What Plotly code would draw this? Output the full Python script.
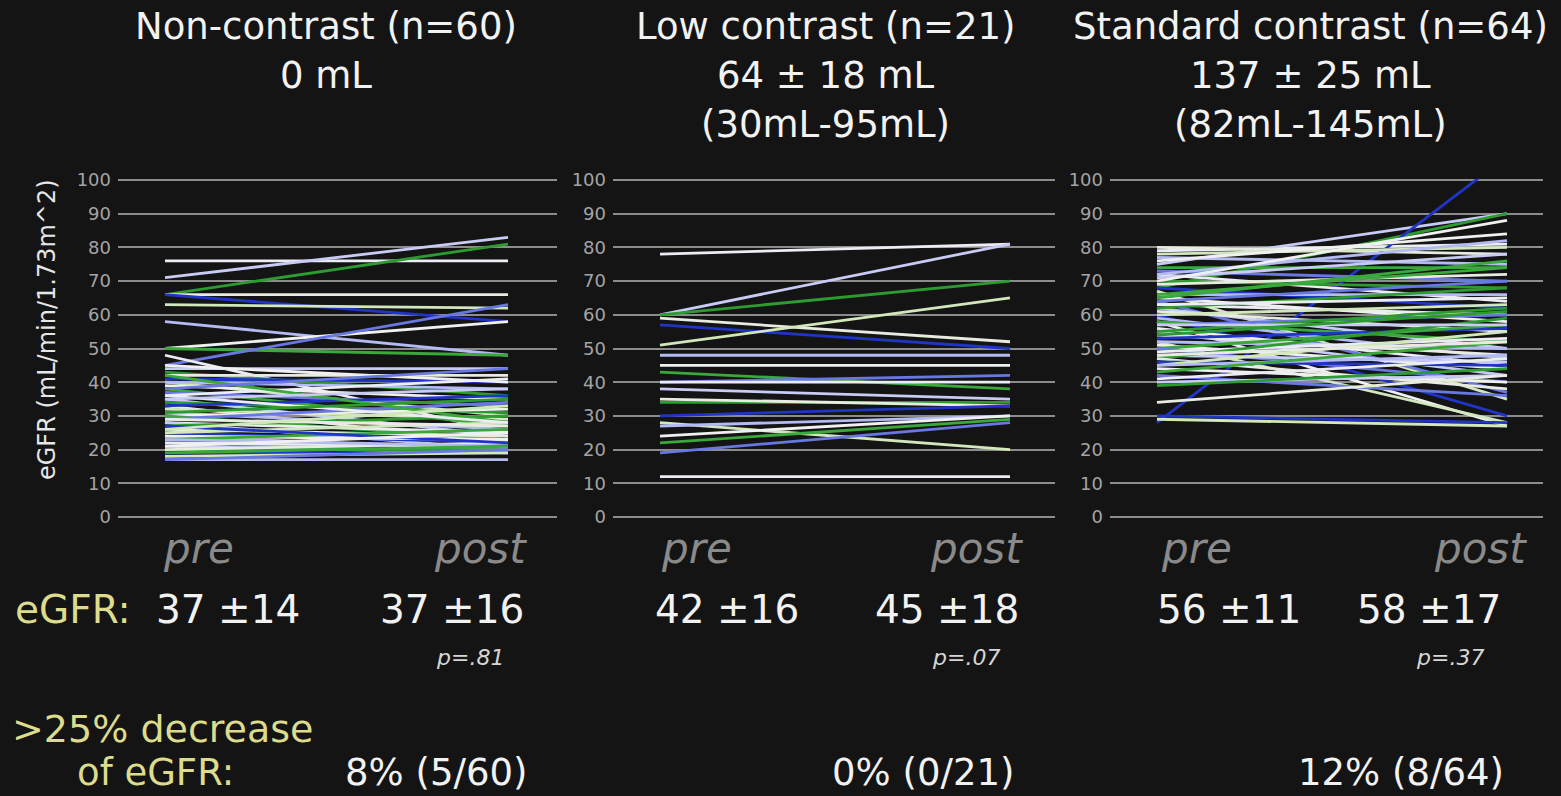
import plotly.graph_objects as go

W, H = 1561, 796

# ---------------- data ----------------
panel_titles = [
    ["Non-contrast (n=60)", "0 mL"],
    ["Low contrast (n=21)", "64 ± 18 mL", "(30mL-95mL)"],
    ["Standard contrast (n=64)", "137 ± 25 mL", "(82mL-145mL)"],
]
x_labels = ["pre", "post"]
y_ticks = [0, 10, 20, 30, 40, 50, 60, 70, 80, 90, 100]

non_pre = [76, 71, 66, 66, 66, 63, 58, 50, 50, 45, 48, 44, 43, 42, 41, 40, 40, 39, 38, 37,
           36, 35, 34, 33, 33, 32, 31, 30, 30, 29, 28, 28, 27, 26, 25, 25, 24, 24, 23, 22,
           22, 21, 20, 20, 19, 18, 17, 45, 42, 38, 36, 35, 31, 29, 27, 26, 23, 21, 19, 17]
non_post = [76, 83, 81, 66, 58, 62, 48, 58, 48, 63, 25, 44, 36, 42, 40, 30, 38, 35, 27, 33,
            41, 24, 31, 22, 36, 29, 26, 32, 23, 34, 25, 20, 30, 24, 22, 28, 20, 23, 26, 19,
            21, 19, 20, 22, 19, 19, 17, 40, 28, 44, 28, 38, 35, 27, 22, 33, 21, 25, 21, 20]

low_pre = [78, 60, 60, 59, 57, 51, 48, 45, 43, 40, 40, 38, 34, 35, 30, 28, 27, 24, 22, 19, 12]
low_post = [81, 81, 70, 52, 50, 65, 48, 45, 38, 42, 40, 35, 34, 33, 33, 20, 30, 30, 29, 28, 12]

std_pre = [79, 75, 68, 80, 28, 78, 77, 76, 74, 73, 72, 71, 70, 69, 68, 67, 66, 65, 65, 64,
           63, 62, 62, 61, 60, 60, 59, 58, 58, 57, 56, 55, 55, 54, 53, 52, 52, 51, 50, 50,
           49, 48, 47, 47, 46, 45, 45, 44, 43, 42, 41, 40, 39, 34, 30, 29, 72, 70, 66, 64,
           63, 57, 54, 48]
std_post = [81, 90, 90, 78, 107, 80, 75, 84, 74, 70, 64, 78, 68, 72, 62, 35, 66, 58, 76, 37,
            60, 50, 68, 55, 30, 63, 47, 27, 52, 60, 45, 42, 62, 48, 56, 28, 50, 44, 57, 40,
            53, 46, 59, 38, 45, 55, 48, 40, 52, 36, 47, 42, 44, 42, 28, 27, 82, 88, 74, 70,
            65, 57, 61, 52]

egfr_pre = ["37 ±14", "42 ±16", "56 ±11"]
egfr_post = ["37 ±16", "45 ±18", "58 ±17"]
p_values = ["p=.81", "p=.07", "p=.37"]
decrease = ["8% (5/60)", "0% (0/21)", "12% (8/64)"]

groups = [(non_pre, non_post), (low_pre, low_post), (std_pre, std_post)]

# ---------------- style ----------------
BG = "#141414"
PALETTE = ["#ececf4", "#c8ccf4", "#2c9c30", "#e8ece0", "#2034c8",
           "#d2e8bc", "#b4baf2", "#f0f0f0", "#3aa83a", "#6878e0"]
GRID = "#8c8c8c"
YELLOW = "#dcdc8c"
FONT = "DejaVu Sans"

def px(x):
    return x / W

def py(y):
    return 1 - y / H

# panel geometry in pixels: (axis left, axis right, pre x, post x)
geo = [(118, 557, 165, 508), (613, 1055, 660, 1010), (1110, 1543, 1157, 1507)]
y0_px, y100_px = 517, 180
ylo, yhi = -0.4, 100.4
unit = (y0_px - y100_px) / 100.0
dom_y = [py(y0_px + 0.4 * unit), py(y100_px - 0.4 * unit)]

fig = go.Figure()
layout = {}
for i, ((pre, post), (l, r, xp, xq)) in enumerate(zip(groups, geo)):
    s = "" if i == 0 else str(i + 1)
    per = xq - xp
    xr = [-(xp - l) / per, 1 + (r - xq) / per]
    for j, (a, b) in enumerate(zip(pre, post)):
        fig.add_trace(go.Scatter(
            x=[0, 1], y=[a, b], mode="lines",
            line=dict(color=PALETTE[j % len(PALETTE)], width=2.8),
            xaxis="x" + s, yaxis="y" + s, showlegend=False, hoverinfo="skip"))
    layout["xaxis" + s] = dict(domain=[px(l), px(r)], range=xr, showgrid=False,
                               zeroline=False, showticklabels=False, ticks="",
                               anchor="y" + s, fixedrange=True, automargin=False)
    layout["yaxis" + s] = dict(domain=dom_y, range=[ylo, yhi], tickvals=y_ticks,
                               showgrid=True, gridcolor=GRID, gridwidth=2,
                               zeroline=False, anchor="x" + s, automargin=False,
                               tickfont=dict(family=FONT, size=18, color="#a4a4a4"),
                               ticks="", ticklabelstandoff=6, layer="below traces",
                               fixedrange=True)

annots = []
def txt(x, y, t, size, color, italic=False, xanchor="center"):
    annots.append(dict(x=px(x), y=py(y), xref="paper", yref="paper", text=t,
                       showarrow=False, xanchor=xanchor, yanchor="middle",
                       font=dict(family=FONT, size=size, color=color,
                                 style="italic" if italic else "normal")))

title_cx = [326, 825, 1310]
title_ys = [27, 75, 124]
for cx, lines in zip(title_cx, panel_titles):
    for k, line in enumerate(lines):
        txt(cx, title_ys[k], line, 37, "#f2f2f2")

pre_x = [198, 696, 1196]
post_x = [480, 976, 1480]
for i in range(3):
    txt(pre_x[i], 548, x_labels[0], 42, "#8a8a8a", italic=True)
    txt(post_x[i], 548, x_labels[1], 42, "#8a8a8a", italic=True)

txt(13, 609, "eGFR:", 39, YELLOW, xanchor="left")
pre_val_x = [228, 727, 1229]
post_val_x = [452, 947, 1429]
p_x = [470, 966, 1450]
dec_x = [436, 923, 1401]
for i in range(3):
    txt(pre_val_x[i], 609, egfr_pre[i], 39, "#f2f2f2")
    txt(post_val_x[i], 609, egfr_post[i], 39, "#f2f2f2")
    txt(p_x[i], 657, p_values[i], 22, "#d6d6d6", italic=True)
    txt(dec_x[i], 772, decrease[i], 37, "#f2f2f2")

txt(10, 729, ">25% decrease", 38, YELLOW, xanchor="left")
txt(75, 772, "of eGFR:", 37, YELLOW, xanchor="left")

annots.append(dict(x=px(47), y=py(330), xref="paper", yref="paper",
                   text="eGFR (mL/min/1.73m^2)", textangle=-90, showarrow=False,
                   xanchor="center", yanchor="middle",
                   font=dict(family=FONT, size=24, color="#e6e6e6")))

fig.update_layout(width=W, height=H,
                  margin=dict(l=0, r=0, t=0, b=0, pad=0, autoexpand=False),
                  paper_bgcolor=BG, plot_bgcolor=BG, annotations=annots,
                  showlegend=False, **layout)

fig.write_html("out.html", config={"displayModeBar": False},
               post_script="document.body.style.margin='0';"
                           "document.body.style.overflow='hidden';"
                           "document.body.style.background='#141414';")
